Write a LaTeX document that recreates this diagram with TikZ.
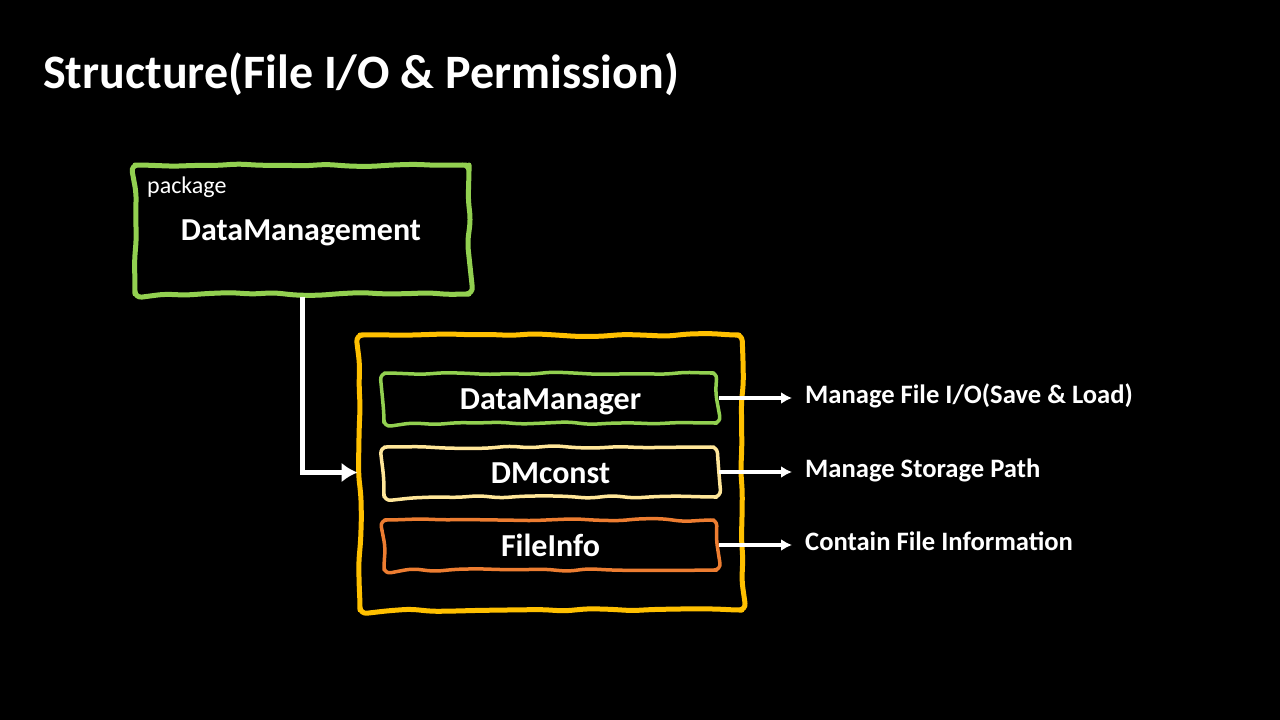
\documentclass[tikz,border=0pt]{standalone}
\usepackage{fontspec}
\setmainfont{Carlito}
\usepackage{xcolor}
\definecolor{PKGcolor}{HTML}{92D050}
\definecolor{CLScolor}{HTML}{FFC000}
\definecolor{CONSTcolor}{HTML}{FFE699}
\definecolor{INFOcolor}{HTML}{ED7D31}
\usepackage{tikz}
\usetikzlibrary{math, arrows.meta, decorations.pathmorphing}

\tikzset{
    sketchy/.style={draw=#1, rounded corners=7pt, line join=round, decorate,
        decoration={random steps, segment length=22pt, amplitude=1.5pt, pre length=3pt, post length=3pt}},
    classBox/.style={sketchy=#1, line width=3.5pt, minimum width=333pt, minimum height=50pt,
        inner sep=0pt, text height=22pt, text depth=0pt, text=white,
        font=\bfseries\fontsize{32}{38}\selectfont},
    descText/.style={anchor=base west, inner sep=0pt, text=white,
        font=\bfseries\fontsize{26.6}{32}\selectfont},
}

\begin{document}
\begin{tikzpicture}[x=1pt, y=-1pt]
    \tikzmath{%
        \classx=550.5;
        \descx=805;
    };
    \pgfmathsetseed{7}

    % background
    \fill [black, use as bounding box] (0, 0) rectangle (1280, 720);

    % title
    \node [anchor=base west, inner sep=0pt, text=white, font=\bfseries\fontsize{48}{58}\selectfont] (title) at (43, 88) {Structure(File I/O \& Permission)};

    % package
    \node [sketchy=PKGcolor, line width=5pt, minimum width=334pt, minimum height=129pt] (pkgBox) at (302, 229.5) {};
    \node [anchor=base west, inner sep=0pt, text=white, font=\fontsize{24}{29}\selectfont] (pkgLabel) at (147, 193) {package};
    \node [anchor=base, inner sep=0pt, text=white, font=\bfseries\fontsize{32}{38}\selectfont] (pkgName) at (301, 240) {DataManagement};

    % classes
    \node [sketchy=CLScolor, line width=5pt, minimum width=382pt, minimum height=275pt] (clsBox) at (551, 472.5) {};
    \foreach \cls/\col/\y/\descy/\desc in {%
            DataManager/PKGcolor/398/403/{Manage File I/O(Save \& Load)},
            DMconst/CONSTcolor/472/477/{Manage Storage Path},
            FileInfo/INFOcolor/545/550/{Contain File Information}} {%
            \node [classBox=\col] (\cls) at (\classx, \y) {\cls};
            \node [descText] (desc\cls) at (\descx, \descy) {\desc};
            \draw [-{Latex[length=11pt, width=12pt]}, white, line width=3.5pt, shorten >=13pt] (\cls.east) -- (\cls.east -| desc\cls.west);
        }

    % package -> classes
    \draw [-{Latex[length=16pt, width=20pt]}, white, line width=5pt] (pkgBox.south) |- (clsBox.west);

\end{tikzpicture}
\end{document}
